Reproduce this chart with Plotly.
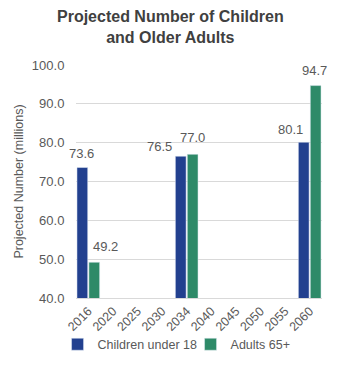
import plotly.graph_objects as go

years = ["2016", "2020", "2025", "2030", "2034", "2040", "2045", "2050", "2055", "2060"]
children = [73.6, None, None, None, 76.5, None, None, None, None, 80.1]
adults = [49.2, None, None, None, 77.0, None, None, None, None, 94.7]

y_ticks = [40, 50, 60, 70, 80, 90, 100]

font_family = "Liberation Sans, Arial, sans-serif"
gray = "#595959"
blue = "#22408f"
green = "#2e8a68"

# Pixel nudges for the value labels (bar offset inside the group + label placement)
child_label_dx = [-7, 0, 0, 0, -27, 0, 0, 0, 0, -19]
child_label_dy = [5, 0, 0, 0, 0, 0, 0, 0, 0, 3]
adult_label_dx = [17, 0, 0, 0, 6, 0, 0, 0, 0, 5]
adult_label_dy = [6, 0, 0, 0, 7, 0, 0, 0, 0, 6]

fig = go.Figure()
fig.add_trace(go.Bar(x=years, y=children, name="Children under 18", marker=dict(color=blue)))
fig.add_trace(go.Bar(x=years, y=adults, name="Adults 65+", marker=dict(color=green)))

# Value labels above the bars (category axis: position = category index)
for values, dxs, dys in ((children, child_label_dx, child_label_dy),
                         (adults, adult_label_dx, adult_label_dy)):
    for idx, (v, dx, dy) in enumerate(zip(values, dxs, dys)):
        if v is None:
            continue
        fig.add_annotation(
            xref="x", yref="y", x=idx, y=v, text=f"{v:.1f}", showarrow=False,
            xanchor="center", yanchor="bottom", xshift=dx, yshift=dy,
            font=dict(size=13, color=gray, family=font_family),
        )

fig.add_annotation(
    text="<b>Projected Number of Children<br>and Older Adults</b>",
    xref="paper", yref="paper", x=0.385, y=1.255,
    xanchor="center", yanchor="top", showarrow=False, align="center",
    font=dict(size=16, color="#404040", family=font_family),
)

fig.update_layout(
    width=341, height=375,
    margin=dict(l=76, r=19, t=65, b=77, autoexpand=False),
    paper_bgcolor="white", plot_bgcolor="white",
    font=dict(family=font_family, color=gray, size=13),
    barmode="group", bargap=0.03, bargroupgap=0.1,
    showlegend=True,
    legend=dict(
        orientation="h", xref="paper", x=-0.075, xanchor="left",
        yref="paper", y=-0.2, yanchor="middle",
        font=dict(size=12.5, color=gray), itemwidth=30,
        entrywidth=88, entrywidthmode="pixels",
        traceorder="normal", bgcolor="rgba(0,0,0,0)",
    ),
    xaxis=dict(
        type="category", categoryorder="array", categoryarray=years,
        range=[-0.5, len(years) - 0.5],
        tickangle=-45, tickfont=dict(size=12.5, color=gray),
        showline=True, linecolor="#d9d9d9", linewidth=1, ticks="",
        showgrid=False, automargin=False,
    ),
    yaxis=dict(
        range=[40, 100], tickvals=y_ticks,
        ticktext=[f"{v:.1f}" for v in y_ticks],
        tickfont=dict(size=13, color=gray),
        ticks="outside", ticklen=8, tickcolor="rgba(0,0,0,0)",
        showgrid=True, gridcolor="#d9d9d9", gridwidth=1,
        zeroline=False, showline=False, automargin=False,
        title=dict(text="Projected Number (millions)", font=dict(size=12.5, color=gray), standoff=5),
    ),
)

fig.write_html("out.html")
